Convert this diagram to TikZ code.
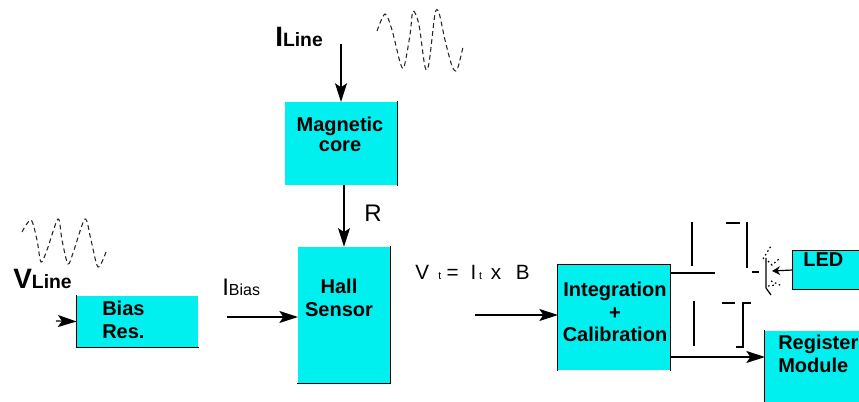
\documentclass[tikz,border=0pt]{standalone}
\usepackage{fontspec}
\setmainfont{Liberation Sans}
\usetikzlibrary{arrows.meta}
\definecolor{blockcyan}{RGB}{0,240,240}
\tikzset{
  blockbox/.style={fill=blockcyan,inner sep=0pt},
  blockedge/.style={draw=black,line width=.9pt,line cap=rect},
  blocktext/.style={font=\fontsize{15}{17}\selectfont\bfseries,align=center,inner sep=0pt},
  wire/.style={draw=black,line width=.9pt},
  sigarrow/.style={wire,-{Stealth[length=14pt,width=9pt,inset=3pt]}},
  wave/.style={draw=black!85,line width=.8pt,dash pattern=on 3.5pt off 2.5pt},
  rays/.style={draw=black,line width=.9pt,dash pattern=on 1.2pt off 2pt}
}
\newcommand{\subtext}[1]{{\fontsize{8}{10}\selectfont #1}}
\begin{document}
\begin{tikzpicture}[x=.75pt,y=-.75pt]
\useasboundingbox (0,0) rectangle (859,402);
\begin{scope}
\clip (0,0) rectangle (859,402);
% blocks
\node[blockbox,minimum width=84pt,minimum height=62pt] (magnetic) at (341,143.5) {};
\node[blockbox,minimum width=69pt,minimum height=102pt] (hall) at (344,315) {};
\node[blockbox,minimum width=91pt,minimum height=38pt] (bias) at (137.5,321.5) {};
\node[blockbox,minimum width=84pt,minimum height=79pt] (integ) at (614,317.5) {};
\node[blockbox,minimum width=60pt,minimum height=28.5pt] (led) at (833,270) {};
\node[blockbox,minimum width=90pt,minimum height=62pt] (register) at (825,372) {};
% visible edges of the blocks
\draw[blockedge] (magnetic.north east) -- (magnetic.south east);
\draw[blockedge] (hall.south west) -- (hall.south east) -- (hall.north east);
\draw[blockedge] (bias.north west) -- (bias.south west) -- (bias.south east);
\draw[blockedge] (integ.south west) -- (integ.north west) -- (integ.north east) -- (integ.south east);
\draw[blockedge] (led.north east) -- (led.north west) -- (led.south west) -- (led.south east);
\draw[blockedge] (register.south west) -- (register.north west);
% block texts
\node[blocktext] (magnetictext) at (340,134) {Magnetic\\[-2pt]core};
\node[blocktext] (halltext) at (339,298) {Hall\\Sensor};
\node[blocktext,align=left,anchor=west] (biastext) at (102,320) {Bias\\Res.};
\node[blocktext] (integtext) at (615,312) {Integration\\+\\Calibration};
\node[blocktext,anchor=west] (ledtext) at (803,260) {LED};
\node[blocktext,align=left,anchor=west] (registertext) at (778,354) {Register\\Module};
\end{scope}
% labels
\node[inner sep=0pt,anchor=base west,font=\fontsize{21}{23}\selectfont\bfseries] (iline) at (275,47) {I\fontsize{14.5}{16}\selectfont Line};
\node[inner sep=0pt,anchor=base west,font=\fontsize{21}{23}\selectfont\bfseries] (vline) at (13,288) {V\fontsize{14.5}{16}\selectfont Line};
\node[inner sep=0pt,anchor=base west,font=\fontsize{18}{20}\selectfont] (ibias) at (222,296) {I\fontsize{12}{14}\selectfont Bias};
\node[inner sep=0pt,font=\fontsize{18}{20}\selectfont] (rlabel) at (373,213) {R};
\node[inner sep=0pt,anchor=base west,font=\fontsize{15.5}{18}\selectfont] (vt) at (415,280) {V\hspace{7pt}\subtext{t}\hspace{4pt}=\hspace{9pt}I\hspace{2pt}\subtext{t}\hspace{6.5pt}x\hspace{11pt}B};
% connectors
\coordinate (ilinestart) at (341,44);
\coordinate (biasstart) at (56,321);
\coordinate (ibiasstart) at (227,317);
\coordinate (hallin) at (298,317);
\coordinate (vtstart) at (475,315);
\coordinate (integin) at (558,315);
\coordinate (integout) at (670,357);
\coordinate (regin) at (765,357);
\draw[sigarrow] (ilinestart) -- (magnetic.north);
\draw[sigarrow] (magnetic.south -| hall.north) -- (hall.north);
\draw[sigarrow] (biasstart) -- (bias.west);
\draw[sigarrow] (ibiasstart) -- (hallin);
\draw[sigarrow] (vtstart) -- (integin);
\draw[sigarrow] (integout) -- (regin);
% switches
\draw[wire] (692,222) -- (692,266);
\draw[wire] (670,273) -- (715,273);
\draw[wire] (726,223) -- (740,223);
\draw[wire] (747,222) -- (747,268);
\draw[line width=2.2pt] (752,272) -- (759,272);
\draw[wire] (694,301) -- (694,346);
\draw[wire] (722,303) -- (735,303);
\draw[wire] (751,303) -- (743,303) -- (743,347) -- (736,347);
% diode of the led
\coordinate (diode) at (772,271);
\draw[wire] (766,258) -- (766,288) -- (771,295);
\draw[wire,-{Stealth[length=6pt,width=6.5pt]}] (led.west) -- (diode);
\draw[rays] (763,259) -- (771,246);
\draw[rays] (768,261) -- (772,265) -- (779,259);
\draw[rays] (771,281) -- (782,286);
\draw[rays] (768,286) -- (776,285);
% waves
\draw[wave] plot[smooth] coordinates {(377,31) (385,14) (392,30) (400,62) (404,67) (410,35) (413,11) (419,25) (425,67) (429,63) (435,14) (439,13) (445,40) (452,66) (457,70) (463,47)};
\draw[wave] plot[smooth] coordinates {(22,232) (31,220) (37,240) (41,262) (47,250) (58,219) (62,240) (68,264) (74,250) (85,219) (91,240) (98,267) (106,252)};
\end{tikzpicture}
\end{document}
